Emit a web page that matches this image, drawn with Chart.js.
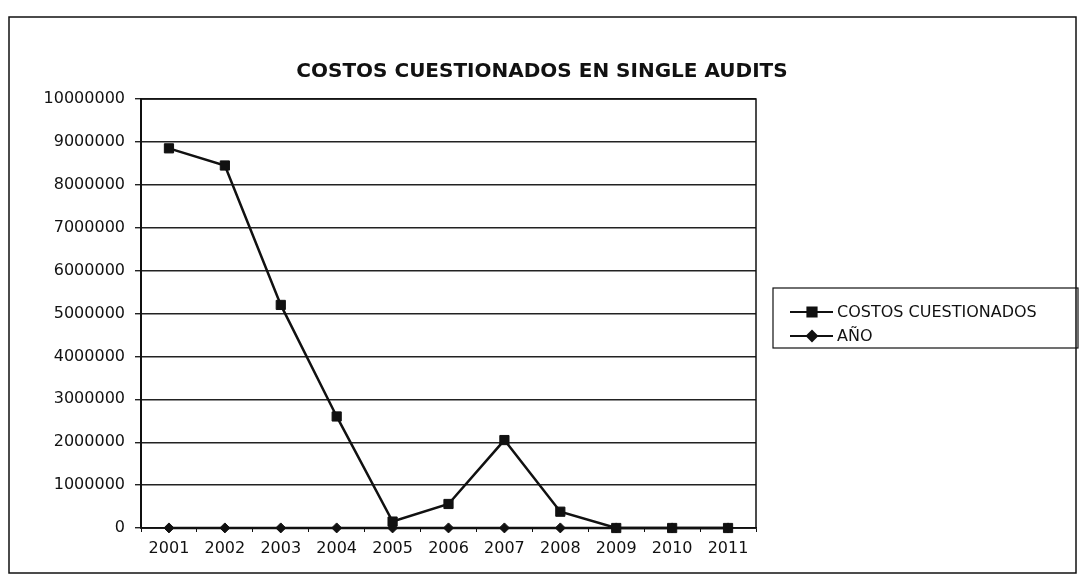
<!DOCTYPE html>
<html>
<head>
<meta charset="utf-8">
<script src="https://cdn.jsdelivr.net/npm/chart.js@4/dist/chart.umd.min.js"></script>
<style>
  html, body { margin: 0; padding: 0; background: #fff; }
  #wrap { width: 1085px; height: 586px; position: relative; }
</style>
</head>
<body>
<div id="wrap"><canvas id="myChart"></canvas></div>
<script>
"use strict"

const years = ['2001', '2002', '2003', '2004', '2005', '2006', '2007', '2008', '2009', '2010', '2011'];
const costosCuestionados = [8850000, 8450000, 5200000, 2600000, 150000, 560000, 2050000, 380000, 0, 0, 0];
const anoValues = [2001, 2002, 2003, 2004, 2005, 2006, 2007, 2008, 2009, 2010, 2011];
const chartTitle = 'COSTOS CUESTIONADOS EN SINGLE AUDITS';
const seriesNames = ['COSTOS CUESTIONADOS', 'AÑO'];

const ink = '#111';
const fontFamily = '"DejaVu Sans", sans-serif';

// outer frame, title, plot border and legend, drawn like the excel export
const excelFrame = {
  id: 'excelFrame',
  beforeDatasetsDraw(chart) {
    const ctx = chart.ctx;
    const a = chart.chartArea;
    ctx.save();
    ctx.strokeStyle = ink;
    ctx.lineWidth = 1.5;
    ctx.strokeRect(a.left, a.top, a.right - a.left, a.bottom - a.top);
    ctx.restore();
  },
  afterDraw(chart) {
    const ctx = chart.ctx;
    ctx.save();
    ctx.strokeStyle = ink;
    ctx.lineWidth = 1.5;
    ctx.strokeRect(9, 17, 1067, 556);

    ctx.fillStyle = ink;
    ctx.font = 'bold 20px ' + fontFamily;
    ctx.textAlign = 'center';
    ctx.textBaseline = 'middle';
    ctx.fillText(chartTitle, 542, 72);

    // legend
    ctx.lineWidth = 1.2;
    ctx.strokeRect(773, 288, 305, 60);
    ctx.font = '16px ' + fontFamily;
    ctx.textAlign = 'left';
    chart.data.datasets.forEach((ds, i) => {
      const y = 312 + i * 24;
      ctx.strokeStyle = ds.borderColor;
      ctx.lineWidth = 2;
      ctx.beginPath();
      ctx.moveTo(790, y);
      ctx.lineTo(833, y);
      ctx.stroke();
      Chart.helpers.drawPoint(ctx, {
        pointStyle: ds.pointStyle,
        radius: ds.pointRadius,
        rotation: 0,
        borderWidth: 1
      }, 812, y);
      ctx.fillStyle = ink;
      ctx.fill();
      ctx.fillText(ds.label, 837, y + 1);
    });
    ctx.restore();
  }
};

const ctx = document.getElementById('myChart').getContext('2d');
const myChart = new Chart(ctx, {
  type: 'line',
  data: {
    labels: years,
    datasets: [{
      label: seriesNames[0],
      data: costosCuestionados,
      borderColor: ink,
      backgroundColor: ink,
      borderWidth: 2.5,
      pointStyle: 'rect',
      pointRadius: 6.5,
      pointBorderWidth: 1,
      tension: 0,
      clip: false
    }, {
      label: seriesNames[1],
      data: anoValues,
      borderColor: ink,
      backgroundColor: ink,
      borderWidth: 2.5,
      pointStyle: 'rectRot',
      pointRadius: 5,
      pointBorderWidth: 1,
      tension: 0,
      clip: false
    }]
  },
  options: {
    responsive: true,
    maintainAspectRatio: false,
    animation: false,
    layout: {
      padding: { left: 0, top: 99, right: 329, bottom: 18 }
    },
    plugins: {
      legend: { display: false },
      title: { display: false },
      tooltip: { enabled: false }
    },
    scales: {
      x: {
        offset: true,
        grid: {
          display: true,
          offset: true,
          drawOnChartArea: false,
          tickLength: 4,
          color: ink,
          lineWidth: 1
        },
        border: { display: true, color: ink, width: 1.5 },
        ticks: {
          color: ink,
          padding: 7,
          maxRotation: 0,
          font: { family: fontFamily, size: 16 }
        },
        afterFit(scale) { scale.height = 40; }
      },
      y: {
        min: 0,
        max: 10000000,
        ticks: {
          stepSize: 1000000,
          color: ink,
          padding: 10,
          font: { family: fontFamily, size: 16 },
          callback: v => String(v)
        },
        grid: {
          color: '#222',
          lineWidth: 1.4,
          tickLength: 6
        },
        border: { display: true, color: ink, width: 2 },
        afterFit(scale) { scale.width = 141; }
      }
    }
  },
  plugins: [excelFrame]
});
</script>
</body>
</html>
